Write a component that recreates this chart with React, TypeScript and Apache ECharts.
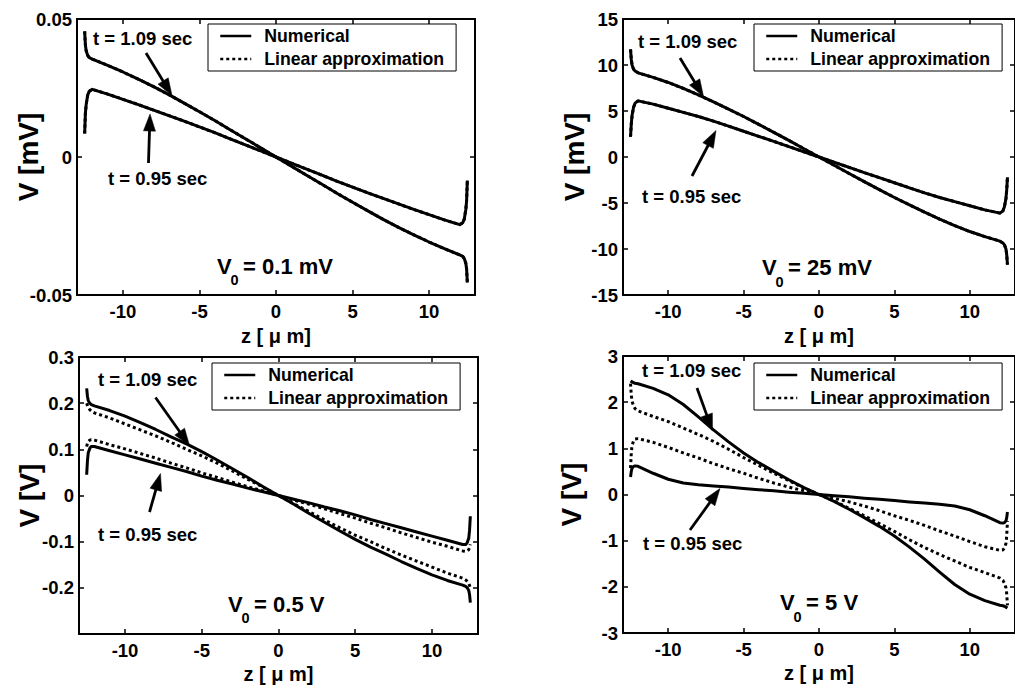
import React, { useEffect, useRef } from 'react';
import * as echarts from 'echarts';

// ---------- data ----------
const Z = [-12.5, -12.45, -12.4, -12.3, -12.2, -12, -11, -10, -9, -8, -7, -6, -5, -4, -3, -2, -1, 0,
  1, 2, 3, 4, 5, 6, 7, 8, 9, 10, 11, 12, 12.2, 12.3, 12.4, 12.45, 12.5];

// Panel 1: V0 = 0.1 mV (values in mV)
const P1_NUM_095 = [0.0085, 0.016, 0.019, 0.0225, 0.0238, 0.0245, 0.0228, 0.0209, 0.019, 0.017, 0.015, 0.013, 0.0109, 0.0088, 0.0066, 0.0044, 0.0022, 0,
  -0.0022, -0.0044, -0.0066, -0.0088, -0.0109, -0.013, -0.015, -0.017, -0.019, -0.0209, -0.0228, -0.0245, -0.0238, -0.0225, -0.019, -0.016, -0.0085];
const P1_NUM_109 = [0.0455, 0.0405, 0.0385, 0.0368, 0.036, 0.0355, 0.0332, 0.0308, 0.0282, 0.0255, 0.0226, 0.0195, 0.0164, 0.0132, 0.0099, 0.0066, 0.0033, 0,
  -0.0033, -0.0066, -0.0099, -0.0132, -0.0164, -0.0195, -0.0226, -0.0255, -0.0282, -0.0308, -0.0332, -0.0355, -0.036, -0.0368, -0.0385, -0.0405, -0.0455];
const P1_LIN_095 = P1_NUM_095; // indistinguishable from the numerical curve
const P1_LIN_109 = P1_NUM_109;

// Panel 2: V0 = 25 mV (values in mV)
const P2_NUM_095 = [2.2, 3.6, 4.5, 5.4, 5.85, 6.1, 5.75, 5.3, 4.85, 4.4, 3.9, 3.35, 2.8, 2.25, 1.7, 1.13, 0.57, 0,
  -0.57, -1.13, -1.7, -2.25, -2.8, -3.35, -3.9, -4.4, -4.85, -5.3, -5.75, -6.1, -5.85, -5.4, -4.5, -3.6, -2.2];
const P2_NUM_109 = [11.7, 10.6, 10.0, 9.55, 9.35, 9.15, 8.65, 8.1, 7.45, 6.75, 6.0, 5.2, 4.4, 3.55, 2.68, 1.8, 0.9, 0,
  -0.9, -1.8, -2.68, -3.55, -4.4, -5.2, -6.0, -6.75, -7.45, -8.1, -8.65, -9.15, -9.35, -9.55, -10.0, -10.6, -11.7];
const P2_LIN_095 = P2_NUM_095;
const P2_LIN_109 = P2_NUM_109;

// Panel 3: V0 = 0.5 V (values in V)
const P3_NUM_095 = [0.045, 0.075, 0.092, 0.102, 0.106, 0.106, 0.097, 0.088, 0.079, 0.07, 0.061, 0.052, 0.042, 0.033, 0.025, 0.016, 0.008, 0,
  -0.008, -0.016, -0.025, -0.033, -0.042, -0.052, -0.061, -0.07, -0.079, -0.088, -0.097, -0.106, -0.106, -0.102, -0.092, -0.075, -0.045];
const P3_NUM_109 = [0.232, 0.215, 0.206, 0.2, 0.197, 0.194, 0.184, 0.172, 0.158, 0.143, 0.127, 0.112, 0.095, 0.077, 0.058, 0.039, 0.019, 0,
  -0.019, -0.039, -0.058, -0.077, -0.095, -0.112, -0.127, -0.143, -0.158, -0.172, -0.184, -0.194, -0.197, -0.2, -0.206, -0.215, -0.232];
const P3_LIN_095 = [0.106, 0.113, 0.117, 0.12, 0.121, 0.12, 0.11, 0.101, 0.091, 0.081, 0.07, 0.06, 0.049, 0.039, 0.029, 0.019, 0.01, 0,
  -0.01, -0.019, -0.029, -0.039, -0.049, -0.06, -0.07, -0.081, -0.091, -0.101, -0.11, -0.12, -0.121, -0.12, -0.117, -0.113, -0.106];
const P3_LIN_109 = [0.2, 0.195, 0.19, 0.186, 0.183, 0.179, 0.168, 0.155, 0.142, 0.129, 0.115, 0.1, 0.086, 0.07, 0.053, 0.035, 0.018, 0,
  -0.018, -0.035, -0.053, -0.07, -0.086, -0.1, -0.115, -0.129, -0.142, -0.155, -0.168, -0.179, -0.183, -0.186, -0.19, -0.195, -0.2];

// Panel 4: V0 = 5 V (values in V)
const P4_NUM_095 = [0.38, 0.5, 0.57, 0.61, 0.62, 0.61, 0.46, 0.33, 0.25, 0.21, 0.185, 0.16, 0.13, 0.105, 0.08, 0.05, 0.025, 0,
  -0.025, -0.05, -0.08, -0.105, -0.13, -0.16, -0.185, -0.21, -0.25, -0.33, -0.46, -0.61, -0.62, -0.61, -0.57, -0.5, -0.38];
const P4_NUM_109 = [2.46, 2.45, 2.44, 2.42, 2.41, 2.4, 2.3, 2.16, 1.95, 1.68, 1.4, 1.14, 0.9, 0.69, 0.5, 0.32, 0.15, 0,
  -0.15, -0.32, -0.5, -0.69, -0.9, -1.14, -1.4, -1.68, -1.95, -2.16, -2.3, -2.4, -2.41, -2.42, -2.44, -2.45, -2.46];
const P4_LIN_095 = [0.57, 0.9, 1.06, 1.16, 1.2, 1.21, 1.13, 1.02, 0.9, 0.79, 0.67, 0.56, 0.46, 0.35, 0.25, 0.16, 0.08, 0,
  -0.08, -0.16, -0.25, -0.35, -0.46, -0.56, -0.67, -0.79, -0.9, -1.02, -1.13, -1.21, -1.2, -1.16, -1.06, -0.9, -0.57];
const P4_LIN_109 = [2.4, 2.15, 2.02, 1.92, 1.86, 1.81, 1.69, 1.58, 1.44, 1.3, 1.15, 0.98, 0.8, 0.63, 0.46, 0.3, 0.14, 0,
  -0.14, -0.3, -0.46, -0.63, -0.8, -0.98, -1.15, -1.3, -1.44, -1.58, -1.69, -1.81, -1.86, -1.92, -2.02, -2.15, -2.4];

const X_TICKS = [-10, -5, 0, 5, 10];
const Y_MIN = [-0.05, -15, -0.3, -3];
const Y_MAX = [0.05, 15, 0.3, 3];
const Y_STEP = [0.05, 5, 0.1, 1];
const Y_NAMES = ['V [mV]', 'V [mV]', 'V [V]', 'V [V]'];
const V0_TEXT = ['0.1 mV', '25 mV', '0.5 V', '5 V'];
const T_LABELS = ['t = 1.09 sec', 't = 0.95 sec'];
const LEGEND_NAMES = ['Numerical', 'Linear approximation'];

const PANELS = [
  { num095: P1_NUM_095, num109: P1_NUM_109, lin095: P1_LIN_095, lin109: P1_LIN_109 },
  { num095: P2_NUM_095, num109: P2_NUM_109, lin095: P2_LIN_095, lin109: P2_LIN_109 },
  { num095: P3_NUM_095, num109: P3_NUM_109, lin095: P3_LIN_095, lin109: P3_LIN_109 },
  { num095: P4_NUM_095, num109: P4_NUM_109, lin095: P4_LIN_095, lin109: P4_LIN_109 },
];

// ---------- layout ----------
const FONT = '"Liberation Sans", Arial, Helvetica, sans-serif';
const GRIDS = [
  { left: 77, top: 19, width: 398, height: 276 },
  { left: 623, top: 19, width: 398, height: 276 },
  { left: 79, top: 357, width: 399, height: 277 },
  { left: 623, top: 356, width: 398, height: 277 },
];
const Y_NAME_GAP = [35, 35, 36, 38];
const X_NAME_GAP = [31, 31, 30, 30];
const LEGEND_POS = [[208, 24], [754, 24], [212, 363], [754, 363]];
const T109_POS = [[93, 38.5], [638, 41.5], [98, 379], [642, 370]];
const T095_POS = [[108, 178.5], [642, 196.5], [98, 534.5], [643, 543.5]];
const ARROW_109 = [[146, 53, 172, 95.5], [680, 58, 703.5, 96.5], [155.5, 397.5, 189.5, 445.5], [697, 388, 712.5, 431]];
const ARROW_095 = [[148.5, 163, 150, 114], [692, 176, 716, 130.5], [149.5, 512, 160.5, 473.5], [690, 530, 720, 488.5]];
const V0_POS = [[217, 266], [762, 267.5], [228, 604], [780, 602.5]];

function pts(arr: number[]) {
  return Z.map((z, i) => [z, arr[i]]);
}

function txt(x: number, y: number, text: string, size: number) {
  return {
    type: 'text', x, y, z: 100,
    style: {
      text, fontSize: size, fontWeight: 'bold', fontFamily: FONT, fill: '#000',
      textAlign: 'left', textVerticalAlign: 'middle', align: 'left', verticalAlign: 'middle',
    },
  };
}

function arrow(a: number[]) {
  const [x1, y1, x2, y2] = a;
  const dx = x2 - x1, dy = y2 - y1;
  const len = Math.sqrt(dx * dx + dy * dy);
  const ux = dx / len, uy = dy / len;
  const nx = -uy, ny = ux;
  const L = 17, W = 6;
  const bx = x2 - ux * L, by = y2 - uy * L;
  return [
    { type: 'line', z: 100, shape: { x1, y1, x2: bx + ux * 2, y2: by + uy * 2 }, style: { stroke: '#000', lineWidth: 2.8 } },
    { type: 'polygon', z: 100, shape: { points: [[x2, y2], [bx + nx * W, by + ny * W], [bx - nx * W, by - ny * W]] }, style: { fill: '#000', stroke: '#000', lineWidth: 0.5 } },
  ];
}

function yFmt(i: number) {
  return (v: number) => {
    if (i === 2 && Math.abs(v + 0.3) < 1e-9) return '';
    const r = Math.round(v * 1000) / 1000;
    return String(r);
  };
}

export default function App() {
  const ref = useRef<HTMLDivElement>(null);
  useEffect(() => {
    if (!ref.current) return;
    const chart = echarts.init(ref.current, undefined, { renderer: 'svg' });
    const labelStyle = { fontSize: 18.5, fontWeight: 'bold', color: '#000', fontFamily: FONT };
    const axisLine = { show: true, onZero: false, lineStyle: { color: '#000', width: 2 } };
    const xAxis: any[] = [];
    const yAxis: any[] = [];
    const series: any[] = [];
    const legend: any[] = [];
    const graphic: any[] = [];

    GRIDS.forEach((g, i) => {
      xAxis.push({
        type: 'value', gridIndex: i, min: -13, max: 13, position: 'bottom',
        axisLine, splitLine: { show: false },
        axisTick: { show: true, inside: true, length: 5, customValues: X_TICKS, lineStyle: { color: '#000', width: 1.5 } },
        axisLabel: { show: true, margin: 7, customValues: X_TICKS, ...labelStyle },
        name: 'z [ μ m]', nameLocation: 'middle', nameGap: X_NAME_GAP[i], nameMoveOverlap: false,
        nameTextStyle: { fontSize: 20, fontWeight: 'bold', color: '#000', fontFamily: FONT },
      });
      xAxis.push({
        type: 'value', gridIndex: i, min: -13, max: 13, position: 'top',
        axisLine, splitLine: { show: false },
        axisTick: { show: true, inside: true, length: 5, customValues: X_TICKS, lineStyle: { color: '#000', width: 1.5 } },
        axisLabel: { show: false },
      });
      yAxis.push({
        type: 'value', gridIndex: i, min: Y_MIN[i], max: Y_MAX[i], interval: Y_STEP[i], position: 'left',
        axisLine, splitLine: { show: false },
        axisTick: { show: true, inside: true, length: 5, lineStyle: { color: '#000', width: 1.5 } },
        axisLabel: { show: true, margin: 5, formatter: yFmt(i), ...labelStyle },
        name: Y_NAMES[i], nameLocation: 'middle', nameGap: Y_NAME_GAP[i], nameRotate: 90, nameMoveOverlap: false,
        nameTextStyle: { fontSize: 28, fontWeight: 'bold', color: '#000', fontFamily: FONT },
      });
      yAxis.push({
        type: 'value', gridIndex: i, min: Y_MIN[i], max: Y_MAX[i], interval: Y_STEP[i], position: 'right',
        axisLine, splitLine: { show: false },
        axisTick: { show: true, inside: true, length: 5, lineStyle: { color: '#000', width: 1.5 } },
        axisLabel: { show: false },
      });

      const p = PANELS[i];
      const base = {
        type: 'line', xAxisIndex: 2 * i, yAxisIndex: 2 * i, symbol: 'none', showSymbol: false,
        smooth: false, silent: true, z: 3,
      };
      const dotted = { color: '#000', width: 3, type: [3, 3], cap: 'butt', join: 'round' };
      const solid = { color: '#000', width: 3, type: 'solid', join: 'round' };
      series.push({ ...base, name: LEGEND_NAMES[1], data: pts(p.lin095), lineStyle: dotted, itemStyle: { color: '#000' } });
      series.push({ ...base, name: LEGEND_NAMES[1], data: pts(p.lin109), lineStyle: dotted, itemStyle: { color: '#000' } });
      series.push({ ...base, name: LEGEND_NAMES[0], data: pts(p.num095), lineStyle: solid, itemStyle: { color: '#000' } });
      series.push({ ...base, name: LEGEND_NAMES[0], data: pts(p.num109), lineStyle: solid, itemStyle: { color: '#000' } });

      legend.push({
        left: LEGEND_POS[i][0], top: LEGEND_POS[i][1], orient: 'vertical', selectedMode: false,
        backgroundColor: '#fff', borderColor: '#000', borderWidth: 1, borderRadius: 0,
        padding: [2, 12, 2, 11], itemGap: 3, itemWidth: 31, itemHeight: 14,
        lineStyle: { width: 2.5 },
        itemStyle: { color: 'rgba(0,0,0,0)', borderWidth: 0, opacity: 0 },
        textStyle: { fontSize: 17.7, fontWeight: 'bold', color: '#000', fontFamily: FONT, padding: [0, 0, 0, 8], lineHeight: 20 },
        data: LEGEND_NAMES, z: 50,
      });

      graphic.push(txt(T109_POS[i][0], T109_POS[i][1], T_LABELS[0], 18.5));
      graphic.push(txt(T095_POS[i][0], T095_POS[i][1], T_LABELS[1], 18.5));
      graphic.push(...arrow(ARROW_109[i]));
      graphic.push(...arrow(ARROW_095[i]));
      const [vx, vy] = V0_POS[i];
      graphic.push(txt(vx, vy, 'V', 22));
      graphic.push(txt(vx + 13.5, vy + 14, '0', 14.5));
      graphic.push(txt(vx + 20, vy, ' = ' + V0_TEXT[i], 22));
    });

    chart.setOption({
      animation: false,
      backgroundColor: '#fff',
      grid: GRIDS.map((g) => ({ ...g, containLabel: false })),
      xAxis, yAxis, series, legend, graphic,
    });
    return () => chart.dispose();
  }, []);
  return <div ref={ref} style={{ position: 'absolute', left: 0, top: 0, width: 1015, height: 688 }} />;
}
